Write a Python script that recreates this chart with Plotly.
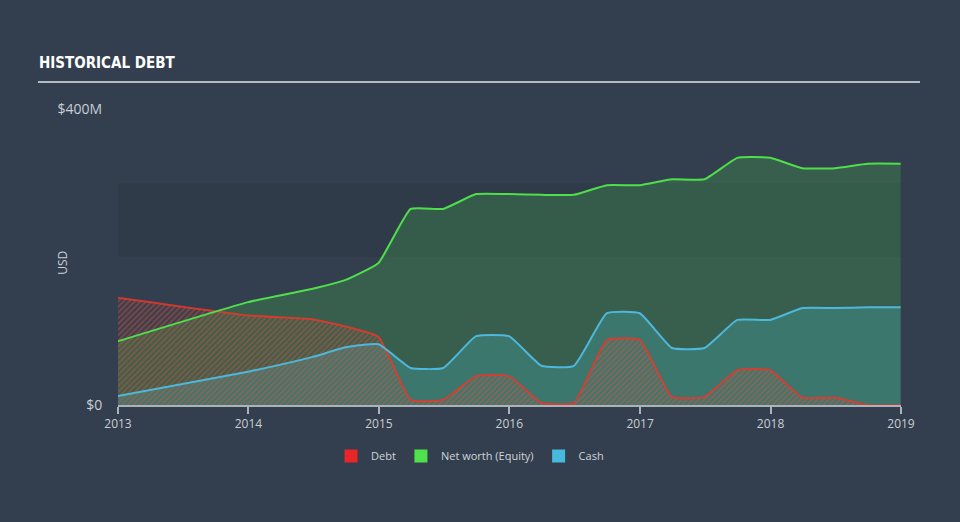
import plotly.graph_objects as go

# ---- data (USD millions) ----
dates = ["2012-12-31", "2013-12-31", "2014-06-30", "2014-09-30", "2014-12-31",
         "2015-03-31", "2015-06-30", "2015-09-30", "2015-12-31",
         "2016-03-31", "2016-06-30", "2016-09-30", "2016-12-31",
         "2017-03-31", "2017-06-30", "2017-09-30", "2017-12-31",
         "2018-03-31", "2018-06-30", "2018-09-30", "2018-12-31"]
debt = [145, 121, 116, 106, 92, 7, 7, 39, 39, 3, 3, 88, 88, 11, 11, 47, 47, 10, 10, 0, 0]
equity = [86, 139, 157, 169, 192, 265, 265, 285, 285, 284, 284, 297, 297, 305, 305,
          334, 334, 320, 320, 326, 326]
cash = [12, 45, 65, 78, 82, 50, 50, 93, 93, 53, 53, 124, 124, 77, 77, 115, 115,
        131, 131, 132, 132]
year_ticks = ["2013-01-01", "2014-01-01", "2015-01-01", "2016-01-01",
              "2017-01-01", "2018-01-01", "2019-01-01"]
year_labels = ["2013", "2014", "2015", "2016", "2017", "2018", "2019"]
y_tickvals = [0, 400]
y_ticktext = ["$0", "$400M"]

BG = "#333f4e"
FONT = "Open Sans, Lato, sans-serif"
SM = 0.4

fig = go.Figure()

# fills
fig.add_trace(go.Scatter(x=dates, y=equity, mode="lines", fill="tozeroy",
                         line=dict(width=0, shape="spline", smoothing=SM),
                         fillcolor="rgba(70,170,75,0.30)", showlegend=False, hoverinfo="skip"))
fig.add_trace(go.Scatter(x=dates, y=cash, mode="lines", fill="tozeroy",
                         line=dict(width=0, shape="spline", smoothing=SM),
                         fillcolor="rgba(70,190,210,0.25)", showlegend=False, hoverinfo="skip"))
fig.add_trace(go.Scatter(x=dates, y=debt, mode="lines", fill="tozeroy",
                         line=dict(width=0, shape="spline", smoothing=SM),
                         fillcolor="rgba(0,0,0,0)",
                         fillpattern=dict(shape="/", fgcolor="rgba(228,80,55,0.85)",
                                          bgcolor="rgba(0,0,0,0)", size=4, solidity=0.5),
                         showlegend=False, hoverinfo="skip"))
# lines
fig.add_trace(go.Scatter(x=dates, y=debt, mode="lines",
                         line=dict(width=2, color="rgba(232,55,42,0.85)", shape="spline", smoothing=SM),
                         showlegend=False))
fig.add_trace(go.Scatter(x=dates, y=cash, mode="lines",
                         line=dict(width=2, color="#4db8dc", shape="spline", smoothing=SM),
                         showlegend=False))
fig.add_trace(go.Scatter(x=dates, y=equity, mode="lines",
                         line=dict(width=2, color="#4fdf4a", shape="spline", smoothing=SM),
                         showlegend=False))

# legend entries
for name, col in [("Debt", "#e8262a"), ("Net worth (Equity)", "#4fe04c"), ("Cash", "#48b9dc")]:
    fig.add_trace(go.Scatter(x=[None], y=[None], mode="markers", name=name,
                             marker=dict(symbol="square", size=13, color=col)))

fig.update_layout(
    width=960, height=522,
    margin=dict(l=118, r=59, t=109, b=117),
    paper_bgcolor=BG, plot_bgcolor=BG,
    font=dict(family=FONT, size=12, color="#c9ced4"),
    showlegend=True,
    legend=dict(orientation="h", x=0.4496, xanchor="center", y=-0.172, yanchor="middle",
                font=dict(size=11, color="#d0d4d9"), bgcolor="rgba(0,0,0,0)",
                itemwidth=30),
    xaxis=dict(type="date", range=["2013-01-01", "2019-01-01"],
               tickvals=year_ticks, ticktext=year_labels,
               showgrid=False, zeroline=False,
               showline=True, linecolor="#aab2bc", linewidth=1.5,
               ticks="outside", ticklen=7, tickcolor="#aab2bc", tickwidth=1.5,
               tickfont=dict(size=12, color="#c9ced4")),
    yaxis=dict(range=[0, 400], tickvals=y_tickvals, ticktext=y_ticktext,
               showgrid=False, zeroline=False, showline=False,
               ticks="outside", ticklen=12, tickcolor="rgba(0,0,0,0)",
               tickfont=dict(size=14, color="#c9ced4")),
    shapes=[
        dict(type="rect", xref="paper", yref="y", x0=0, x1=1, y0=200, y1=300,
             fillcolor="#2f3b49", line=dict(width=0), layer="below"),
        dict(type="line", xref="paper", yref="paper", x0=-0.1022, x1=1.0243,
             y0=1.0912, y1=1.0912, line=dict(color="#b4bac2", width=2)),
    ],
    annotations=[
        dict(text="<b>HISTORICAL DEBT</b>", xref="paper", yref="paper",
             x=-0.1035, y=1.118, xanchor="left", yanchor="bottom", showarrow=False,
             font=dict(family="Liberation Sans Narrow, DejaVu Sans Condensed, Arial Narrow, sans-serif",
                       size=15, color="#ffffff")),
        dict(text="USD", xref="paper", yref="paper", x=-0.0705, y=0.48,
             xanchor="center", yanchor="middle", textangle=-90, showarrow=False,
             font=dict(size=12, color="#c9ced4")),
    ],
)

fig.write_html("out.html")
